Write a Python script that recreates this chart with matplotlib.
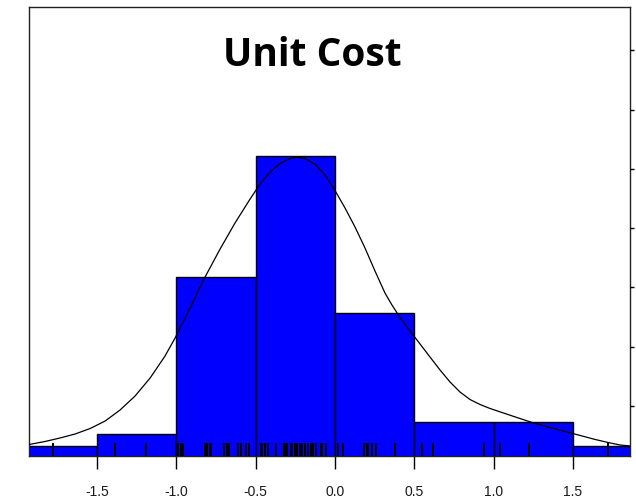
import matplotlib
matplotlib.use("Agg")
import matplotlib.pyplot as plt

# histogram bins (width 0.5) and counts
bin_edges = [-2.0, -1.5, -1.0, -0.5, 0.0, 0.5, 1.0, 1.5, 2.0]
bin_counts = [1, 2, 15, 25, 12, 3, 3, 1]

# density curve (x, height in count units)
curve_x = [-1.929, -1.829, -1.734, -1.639, -1.545, -1.450, -1.356, -1.261,
           -1.166, -1.072, -1.009, -0.914, -0.820, -0.725, -0.631, -0.536,
           -0.473, -0.410, -0.347, -0.284, -0.240, -0.189, -0.126, -0.063,
           0.000, 0.063, 0.126, 0.189, 0.252, 0.315, 0.359, 0.410, 0.473,
           0.536, 0.599, 0.662, 0.725, 0.788, 0.851, 0.914, 0.977, 1.072,
           1.166, 1.261, 1.356, 1.450, 1.545, 1.639, 1.734, 1.797, 1.860]
curve_y = [1.13, 1.38, 1.67, 2.00, 2.45, 3.07, 3.98, 5.14,
           6.63, 8.45, 9.93, 12.41, 14.97, 17.29, 19.44, 21.42,
           22.66, 23.65, 24.36, 24.77, 24.89, 24.77, 24.31, 23.41,
           22.12, 20.68, 19.11, 17.37, 15.47, 13.65, 12.66, 11.63, 10.51,
           9.44, 8.36, 7.29, 6.30, 5.47, 4.85, 4.44, 4.11, 3.69,
           3.28, 2.87, 2.54, 2.21, 1.88, 1.55, 1.26, 1.09, 1.01]

# rug of observations
rug_x = [-1.78, -1.39, -1.19, -0.99, -0.97, -0.96, -0.82, -0.81, -0.79, -0.78,
         -0.70, -0.68, -0.67, -0.61, -0.59, -0.56, -0.54, -0.47, -0.46, -0.44,
         -0.42, -0.37, -0.32, -0.31, -0.30, -0.28, -0.27, -0.25, -0.24, -0.22,
         -0.21, -0.19, -0.17, -0.15, -0.14, -0.12, -0.09, -0.08, -0.06, 0.02,
         0.05, 0.18, 0.20, 0.21, 0.23, 0.26, 0.38, 0.55, 0.62, 0.94, 1.04,
         1.22, 1.72]

x_ticks = [-1.5, -1.0, -0.5, 0.0, 0.5, 1.0, 1.5]
title = "Unit Cost"

fig = plt.figure(figsize=(6.36, 5.02), dpi=100)
ax = fig.add_axes([29 / 636, 45 / 502, 601 / 636, 449 / 502])

widths = [b - a for a, b in zip(bin_edges[:-1], bin_edges[1:])]
ax.bar(bin_edges[:-1], bin_counts, width=widths, align="edge", bottom=0,
       color="#0000FF", edgecolor="black", linewidth=1.0, zorder=2)

ax.vlines(rug_x, 0, 0.028, transform=ax.get_xaxis_transform(),
          color="black", linewidth=1.4, zorder=3)

ax.plot(curve_x, curve_y, color="black", linewidth=0.9, zorder=4)

ax.set_xlim(-1.93, 1.86)
ax.set_ylim(0.18, 37.3)
ax.set_xticks(x_ticks)
ax.set_xticklabels([f"{t:.1f}" for t in x_ticks], family="Liberation Sans",
                   fontsize=10, color="#1a1a1a")
ax.tick_params(axis="x", direction="out", length=9.5, width=1.0, pad=11)
ax.set_yticks([])
for s in ax.spines.values():
    s.set_linewidth(1.0)
    s.set_color("#222222")

# unlabeled ticks on the right side
ax2 = ax.twinx()
ax2.set_ylim(0.157, 7.73)
ax2.set_yticks([1, 2, 3, 4, 5, 6, 7])
ax2.tick_params(axis="y", direction="out", length=3, width=1.0, labelright=False)
for s in ax2.spines.values():
    s.set_visible(False)

fig.text(312 / 636, 1 - 55 / 502, title, ha="center", va="center",
         family="Open Sans", fontweight="bold", fontsize=28)

fig.savefig("out.png", dpi=100)
